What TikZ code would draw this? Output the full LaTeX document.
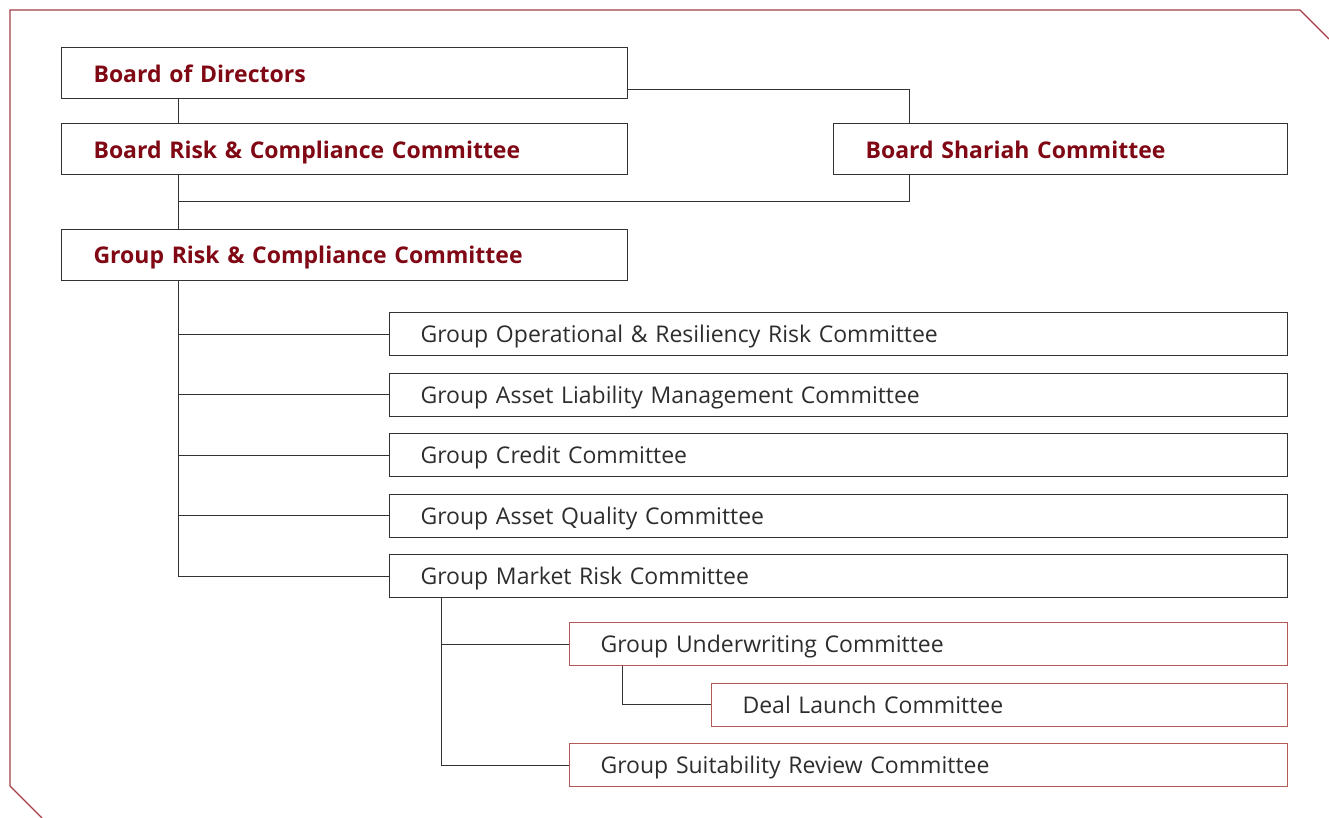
\documentclass[tikz,border=0pt]{standalone}
\usepackage{fontspec}
\setmainfont{Open Sans}[WordSpace=2.2]
\usepackage{xcolor}
\usetikzlibrary{positioning}

\definecolor{framered}{RGB}{165,60,70}
\definecolor{headred}{RGB}{128,8,20}
\definecolor{boxgrey}{RGB}{50,50,50}
\definecolor{textgrey}{RGB}{45,45,45}
\definecolor{subred}{RGB}{178,90,85}

\tikzset{
  headbox/.style={draw=boxgrey, line width=1.1pt, rectangle, minimum height=51pt,
    inner xsep=32pt, inner ysep=0pt, align=left, text=headred,
    text height=18pt, text depth=0pt,
    font=\fontsize{23}{27}\selectfont\bfseries},
  unitbox/.style={draw=boxgrey, line width=1.1pt, rectangle, minimum height=43pt,
    inner xsep=31pt, inner ysep=0pt, align=left, text=textgrey,
    text height=18pt, text depth=1pt,
    font=\fontsize{23}{27}\selectfont},
  deskbox/.style={unitbox, draw=subred},
  link/.style={draw=boxgrey, line width=1pt}
}

\begin{document}
\begin{tikzpicture}[x=1pt, y=-1pt, node distance=25pt]
    \useasboundingbox (0,0) rectangle (1329,818);
    % frame
    \draw[framered, line width=1.3pt] (42,818) -- (10,786) -- (10,10) -- (1300,10) -- (1329,39);

    % board level
    \node[headbox, text width=502pt, anchor=north west] (bod) at (61,47) {Board of Directors};
    \node[headbox, text width=502pt, below=24pt of bod.south west, anchor=north west] (brcc) {Board Risk \& Compliance Committee};
    \node[headbox, text width=390pt, right=205pt of brcc.north east, anchor=north west] (bsc) {Board Shariah Committee};
    \node[headbox, text width=502pt, below=53.5pt of brcc.south west, anchor=north west] (grcc) {Group Risk \& Compliance Committee};

    % management committees
    \node[unitbox, text width=836pt, anchor=north west] (gor) at (389,312) {Group Operational \& Resiliency Risk Committee};
    \node[unitbox, text width=836pt, below=16.4pt of gor.south west, anchor=north west] (galm) {Group Asset Liability Management Committee};
    \node[unitbox, text width=836pt, below=16.4pt of galm.south west, anchor=north west] (gcc) {Group Credit Committee};
    \node[unitbox, text width=836pt, below=16.4pt of gcc.south west, anchor=north west] (gaq) {Group Asset Quality Committee};
    \node[unitbox, text width=836pt, below=16.4pt of gaq.south west, anchor=north west] (gmr) {Group Market Risk Committee};

    % market risk sub-committees
    \node[deskbox, text width=656pt, anchor=north west] (guc) at (569,622) {Group Underwriting Committee};
    \node[deskbox, text width=514pt, below=16.4pt of guc.south east, anchor=north east] (dlc) {Deal Launch Committee};
    \node[deskbox, text width=656pt, below=16.4pt of dlc.south east, anchor=north east] (gsr) {Group Suitability Review Committee};

    % spines
    \coordinate (spine) at (178,0);
    \coordinate (sharx) at (909,0);
    \coordinate (mid) at (0,202);
    \coordinate (subspine) at (441,0);
    \coordinate (ucspine) at (622,0);

    % connectors
    \draw[link] (spine |- bod.south) -- (spine |- brcc.north);
    \draw[link] ([yshift=10pt]bod.south east) -| (sharx |- bsc.north);
    \draw[link] (spine |- brcc.south) -- (spine |- grcc.north);
    \draw[link] (spine |- mid) -| (sharx |- bsc.south);
    \draw[link] (spine |- grcc.south) |- (gmr.west);
    \draw[link] (spine |- gor.west) -- (gor.west);
    \draw[link] (spine |- galm.west) -- (galm.west);
    \draw[link] (spine |- gcc.west) -- (gcc.west);
    \draw[link] (spine |- gaq.west) -- (gaq.west);
    \draw[link] (subspine |- gmr.south) |- (gsr.west);
    \draw[link] (subspine |- guc.west) -- (guc.west);
    \draw[link] (ucspine |- guc.south) |- (dlc.west);
\end{tikzpicture}
\end{document}
